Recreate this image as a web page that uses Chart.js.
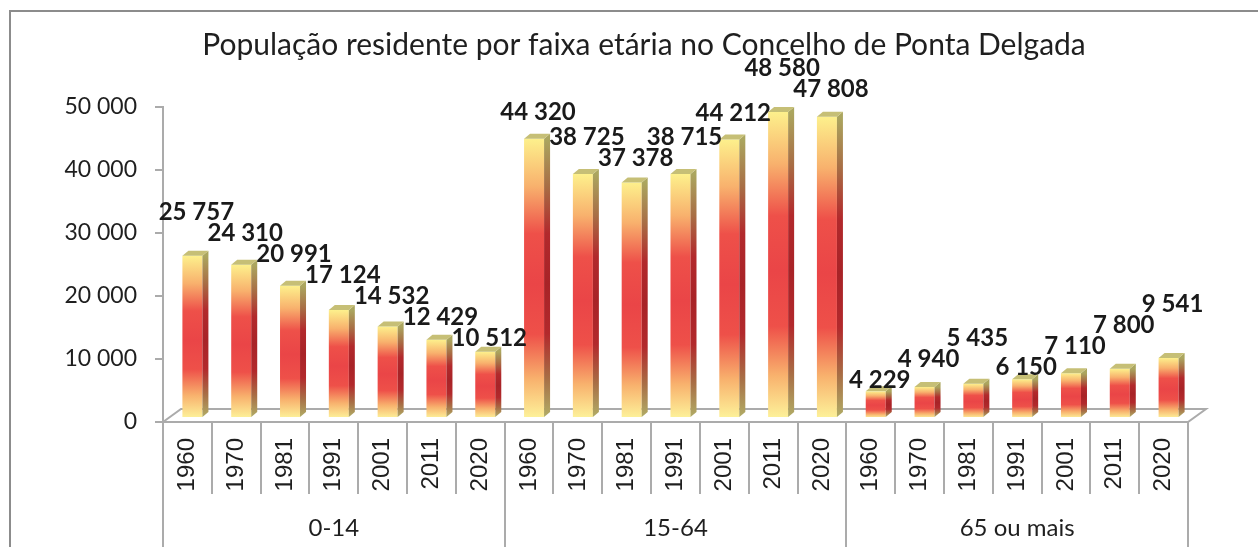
<!DOCTYPE html>
<html lang="pt">
<head>
<meta charset="UTF-8">
<title>População residente por faixa etária</title>
<script src="https://cdn.jsdelivr.net/npm/chart.js@4.4.1/dist/chart.umd.min.js"></script>
<style>
  html, body { margin: 0; padding: 0; background: #fff; overflow: hidden; }
</style>
</head>
<body>
<canvas id="popChart" width="1258" height="547"></canvas>
<script>
// dados
var anos = ['1960', '1970', '1981', '1991', '2001', '2011', '2020'];
var grupos = ['0-14', '15-64', '65 ou mais'];
var pop0a14 = [25757, 24310, 20991, 17124, 14532, 12429, 10512];
var pop15a64 = [44320, 38725, 37378, 38715, 44212, 48580, 47808];
var pop65mais = [4229, 4940, 5435, 6150, 7110, 7800, 9541];
var yTicks = [0, 10000, 20000, 30000, 40000, 50000];

var titulo = 'População residente por faixa etária no Concelho de Ponta Delgada';

var labels = [].concat(anos, anos, anos);
var valores = [].concat(pop0a14, pop15a64, pop65mais);

// aspecto 3d
var PROF_X = 18, PROF_Y = 13;   // profundidade do chão
var LADO_X = 6, TOPO_Y = 5;      // face lateral / topo das barras
var DESL_X = 5, DESL_Y = 4;      // barras ficam um pouco para dentro do chão
var paradas = [0, 0.17, 0.34, 0.52, 0.7, 0.86, 1];
var coresFrente = ['#fdf08c', '#f8b16d', '#ee5049', '#ea4547', '#ee5049', '#f8b16d', '#fdf29a'];
var coresLado = ['#aba65f', '#a86e45', '#b2292c', '#a82327', '#b2292c', '#a86e45', '#b1ac66'];
var corTopo = '#c6bf76';
var corLinha = '#ababab';
var fonteRotulo = 'bold 24px Lato';

function fmt(v) {
    return String(v).replace(/\B(?=(\d{3})+(?!\d))/g, ' ');
}

function gradiente(ctx, topo, base, cores) {
    var g = ctx.createLinearGradient(0, topo, 0, base);
    for (var i = 0; i < cores.length; i++) g.addColorStop(paradas[i], cores[i]);
    return g;
}

// posiciona os rotulos: primeiro as barras mais baixas, os outros sobem se colidirem
function posicaoRotulos(ctx, meta) {
    var itens = meta.data.map(function (el, i) {
        var p = el.getProps(['x', 'y', 'base'], true);
        var topo = p.y - DESL_Y;
        var alt = p.base - p.y;
        return {
            i: i,
            x: p.x + DESL_X + 4,
            y: topo - (10 + 0.06 * alt),
            w: ctx.measureText(fmt(valores[i])).width - 6
        };
    });
    var ordem = itens.slice().sort(function (a, b) { return valores[a.i] - valores[b.i]; });
    var feitos = [];
    ordem.forEach(function (it) {
        var mexeu = true;
        while (mexeu) {
            mexeu = false;
            for (var k = 0; k < feitos.length; k++) {
                var o = feitos[k];
                if (Math.abs(o.x - it.x) < (o.w + it.w) / 2 && Math.abs(o.y - it.y) < 20) {
                    it.y = o.y - 21;
                    mexeu = true;
                }
            }
        }
        feitos.push(it);
    });
    return itens;
}

var barras3d = {
    id: 'barras3d',
    beforeDraw: function (chart) {
        var ctx = chart.ctx;
        ctx.save();
        ctx.fillStyle = '#fff';
        ctx.fillRect(0, 0, chart.width, chart.height);
        ctx.strokeStyle = '#8c8c8c';
        ctx.lineWidth = 2;
        ctx.strokeRect(10, 11, chart.width + 20, chart.height + 20);
        // titulo
        ctx.fillStyle = '#1f1f1f';
        ctx.font = '30px Lato';
        ctx.textAlign = 'center';
        ctx.textBaseline = 'middle';
        ctx.fillText(titulo, 644, 45);
        ctx.restore();
    },
    beforeDatasetsDraw: function (chart) {
        var ctx = chart.ctx, a = chart.chartArea;
        ctx.save();
        ctx.beginPath();
        ctx.moveTo(a.left, a.bottom);
        ctx.lineTo(a.left + PROF_X, a.bottom - PROF_Y);
        ctx.lineTo(a.right + PROF_X, a.bottom - PROF_Y);
        ctx.lineTo(a.right, a.bottom);
        ctx.closePath();
        ctx.fillStyle = '#fff';
        ctx.fill();
        ctx.strokeStyle = corLinha;
        ctx.lineWidth = 2;
        ctx.stroke();
        ctx.restore();
        ctx.save();
        ctx.translate(DESL_X, -DESL_Y);
    },
    afterDatasetsDraw: function (chart) {
        var ctx = chart.ctx;
        var meta = chart.getDatasetMeta(0);
        meta.data.forEach(function (el) {
            var p = el.getProps(['x', 'y', 'base', 'width'], true);
            var dir = p.x + p.width / 2, esq = p.x - p.width / 2;
            // lado
            ctx.beginPath();
            ctx.moveTo(dir, p.y);
            ctx.lineTo(dir + LADO_X, p.y - TOPO_Y);
            ctx.lineTo(dir + LADO_X, p.base - TOPO_Y);
            ctx.lineTo(dir, p.base);
            ctx.closePath();
            ctx.fillStyle = gradiente(ctx, p.y, p.base, coresLado);
            ctx.fill();
            // topo
            ctx.beginPath();
            ctx.moveTo(esq, p.y);
            ctx.lineTo(dir, p.y);
            ctx.lineTo(dir + LADO_X, p.y - TOPO_Y);
            ctx.lineTo(esq + LADO_X, p.y - TOPO_Y);
            ctx.closePath();
            ctx.fillStyle = corTopo;
            ctx.fill();
        });
        ctx.restore();

        // rotulos de valor
        ctx.save();
        ctx.fillStyle = '#1a1a1a';
        ctx.font = fonteRotulo;
        ctx.textAlign = 'center';
        ctx.textBaseline = 'middle';
        posicaoRotulos(ctx, meta).forEach(function (it) {
            ctx.fillText(fmt(valores[it.i]), it.x, it.y);
        });
        ctx.restore();
    },
    afterDraw: function (chart) {
        var ctx = chart.ctx, x = chart.scales.x, a = chart.chartArea;
        var passo = (x.right - x.left) / labels.length;
        ctx.save();
        ctx.strokeStyle = corLinha;
        ctx.lineWidth = 2;
        for (var i = 0; i <= labels.length; i++) {
            var px = Math.round(x.left + i * passo);
            var fim = (i % anos.length === 0) ? chart.height : x.bottom;
            ctx.beginPath();
            ctx.moveTo(px, a.bottom);
            ctx.lineTo(px, fim);
            ctx.stroke();
        }
        ctx.restore();
    }
};

var ctx = document.getElementById('popChart').getContext('2d');
var popChart = new Chart(ctx, {
    type: 'bar',
    data: {
        labels: labels,
        datasets: [{
            label: 'População',
            data: valores,
            backgroundColor: function (c) {
                var chart = c.chart;
                if (!chart.chartArea || c.raw === undefined) return '#ee5049';
                var y = chart.scales.y;
                return gradiente(chart.ctx, y.getPixelForValue(c.raw), y.getPixelForValue(0), coresFrente);
            },
            borderWidth: 0,
            categoryPercentage: 1,
            barPercentage: 0.41
        }]
    },
    options: {
        responsive: false,
        animation: false,
        devicePixelRatio: 1,
        layout: { padding: { top: 107, left: 10, right: 70, bottom: 0 } },
        plugins: {
            legend: { display: false },
            tooltip: { enabled: false },
            title: { display: false }
        },
        scales: {
            y: {
                min: 0,
                max: 50000,
                afterBuildTicks: function (s) { s.ticks = yTicks.map(function (v) { return { value: v }; }); },
                afterFit: function (s) { s.width = 153; },
                grid: { drawOnChartArea: false, drawTicks: true, tickLength: 8, color: corLinha, lineWidth: 2 },
                border: { display: true, color: corLinha, width: 2 },
                ticks: {
                    padding: 18,
                    color: '#1f1f1f',
                    font: { family: 'Lato', size: 23 },
                    callback: function (v) { return fmt(v); }
                }
            },
            x: {
                weight: 0,
                afterFit: function (s) { s.height = 72; },
                grid: { display: false, drawTicks: false },
                border: { display: true, color: corLinha, width: 2 },
                ticks: {
                    autoSkip: false,
                    minRotation: 90,
                    maxRotation: 90,
                    padding: 16,
                    color: '#1f1f1f',
                    font: { family: 'Liberation Sans', size: 24 }
                }
            },
            xGrupo: {
                type: 'category',
                position: 'bottom',
                weight: 1,
                labels: grupos,
                offset: true,
                afterFit: function (s) { s.height = 53; },
                grid: { display: false, drawTicks: false },
                border: { display: false },
                ticks: {
                    autoSkip: false,
                    maxRotation: 0,
                    padding: 20,
                    color: '#1f1f1f',
                    font: { family: 'Lato', size: 24 }
                }
            }
        }
    },
    plugins: [barras3d]
});
</script>
</body>
</html>
